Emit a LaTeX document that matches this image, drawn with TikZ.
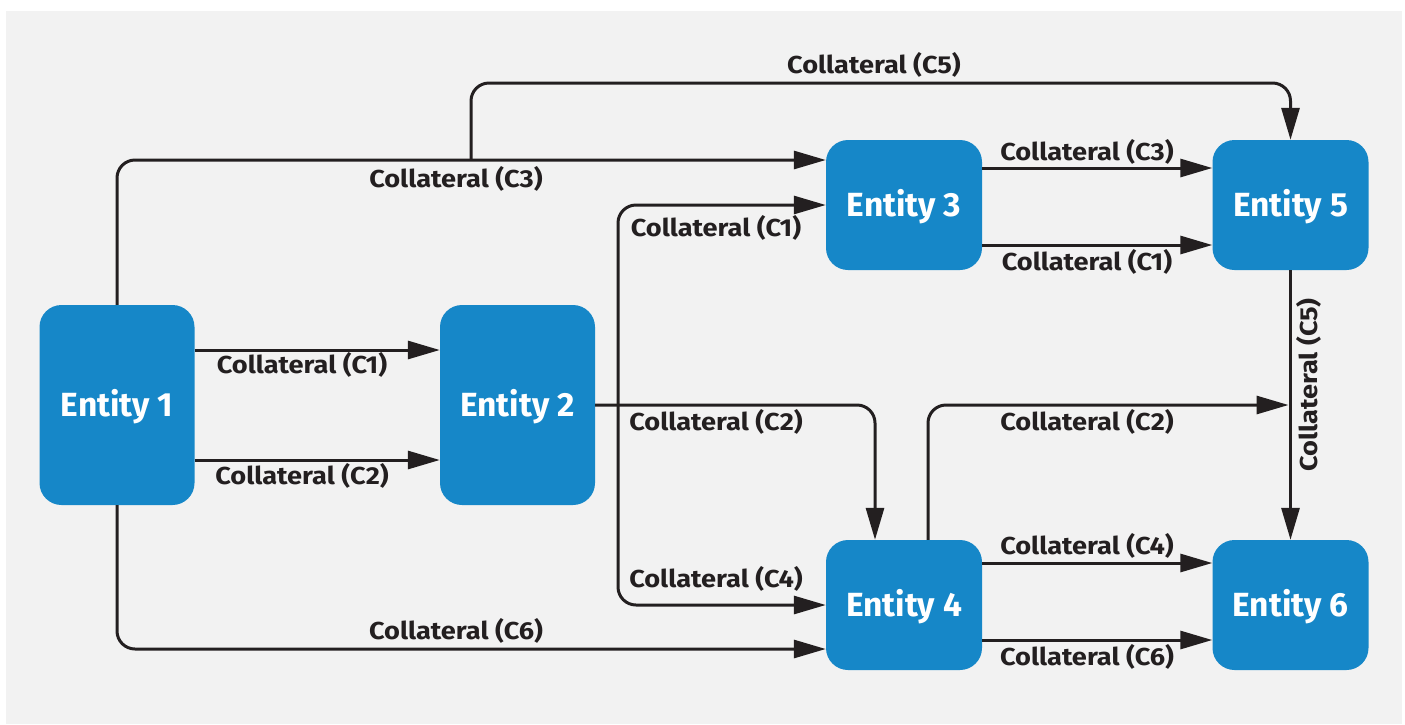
\documentclass[tikz,border=0pt]{standalone}
\usepackage{fontspec}
\setmainfont{Fira Sans}
\newfontfamily\labfont{Fira Sans}[FakeStretch=1.11]
\usetikzlibrary{arrows.meta}
\definecolor{bg}{HTML}{F2F2F2}
\definecolor{entblue}{HTML}{1687C8}
\definecolor{ink}{HTML}{231F20}
\tikzset{
  ent/.style={fill=entblue, rounded corners=22pt, text=white,
    font=\fontsize{33.5}{36}\selectfont\bfseries, inner sep=0pt,
    text height=23pt, text depth=0pt},
  bigent/.style={ent, minimum width=155pt, minimum height=200pt},
  smallent/.style={ent, minimum width=156pt, minimum height=130pt},
  conn/.style={draw=ink, line width=3pt, rounded corners=18pt,
    -{Triangle[length=32pt,width=18pt]}},
  lab/.style={text=ink, font=\labfont\fontsize{24.5}{27}\selectfont\bfseries, inner sep=0pt}
}
\begin{document}
\begin{tikzpicture}[x=1pt,y=-1pt]
  \useasboundingbox (0,0) rectangle (1405,724);
  \fill[bg] (6,11) rectangle (1402,724);

  % entities
  \node[bigent]   (e1) at (117,405) {Entity 1};
  \node[bigent]   (e2) at (517.5,405) {Entity 2};
  \node[smallent] (e3) at (904,205) {Entity 3};
  \node[smallent] (e5) at (1290.5,205) {Entity 5};
  \node[smallent] (e4) at (904,605) {Entity 4};
  \node[smallent] (e6) at (1290.5,605) {Entity 6};

  % junction points
  \coordinate (j1) at (471,160);
  \coordinate (j2) at (618,405);
  \coordinate (j3) at (1288.5,405);
  \coordinate (t4) at (875,405);

  % Entity 1 -> Entity 2
  \draw[conn] (e1.east |- 0,350) -- (e2.west |- 0,350);
  \draw[conn] (e1.east |- 0,460) -- (e2.west |- 0,460);

  % Entity 1 -> Entity 3, with branch to Entity 5
  \draw[conn] (e1.north) |- (e3.west |- 0,160);
  \draw[conn] (j1) |- (e5.north |- 0,83) -- (e5.north);

  % Entity 1 -> Entity 4
  \draw[conn] (e1.south) |- (e4.west |- 0,649);

  % Entity 2 -> Entity 3 / Entity 4
  \draw[conn] (e2.east) -- (t4) -- (e4.north -| t4);
  \draw[conn] (j2) |- (e3.west);
  \draw[conn] (j2) |- (e4.west);

  % Entity 3 -> Entity 5
  \draw[conn] (e3.east |- 0,168) -- (e5.west |- 0,168);
  \draw[conn] (e3.east |- 0,245) -- (e5.west |- 0,245);

  % Entity 5 -> Entity 6
  \draw[conn] (e5.south) -- (e6.north);

  % Entity 4 -> Entity 5/6 line
  \draw[conn] (e4.north -| 928,0) |- (j3);

  % Entity 4 -> Entity 6
  \draw[conn] (e4.east |- 0,563) -- (e6.west |- 0,563);
  \draw[conn] (e4.east |- 0,640) -- (e6.west |- 0,640);

  % labels
  \node[lab] (l1)  at (302,365)  {Collateral (C1)};
  \node[lab] (l2)  at (302,476)  {Collateral (C2)};
  \node[lab] (l3)  at (456,179)  {Collateral (C3)};
  \node[lab] (l4)  at (874,65)   {Collateral (C5)};
  \node[lab] (l5)  at (716,228)  {Collateral (C1)};
  \node[lab] (l6)  at (716,422)  {Collateral (C2)};
  \node[lab] (l7)  at (716,579)  {Collateral (C4)};
  \node[lab] (l8)  at (456,631)  {Collateral (C6)};
  \node[lab] (l9)  at (1087,152) {Collateral (C3)};
  \node[lab] (l10) at (1087,262) {Collateral (C1)};
  \node[lab] (l11) at (1087,422) {Collateral (C2)};
  \node[lab] (l12) at (1087,546) {Collateral (C4)};
  \node[lab] (l13) at (1087,657) {Collateral (C6)};
  \node[lab, rotate=90] (l14) at (1309,385) {Collateral (C5)};
\end{tikzpicture}
\end{document}
